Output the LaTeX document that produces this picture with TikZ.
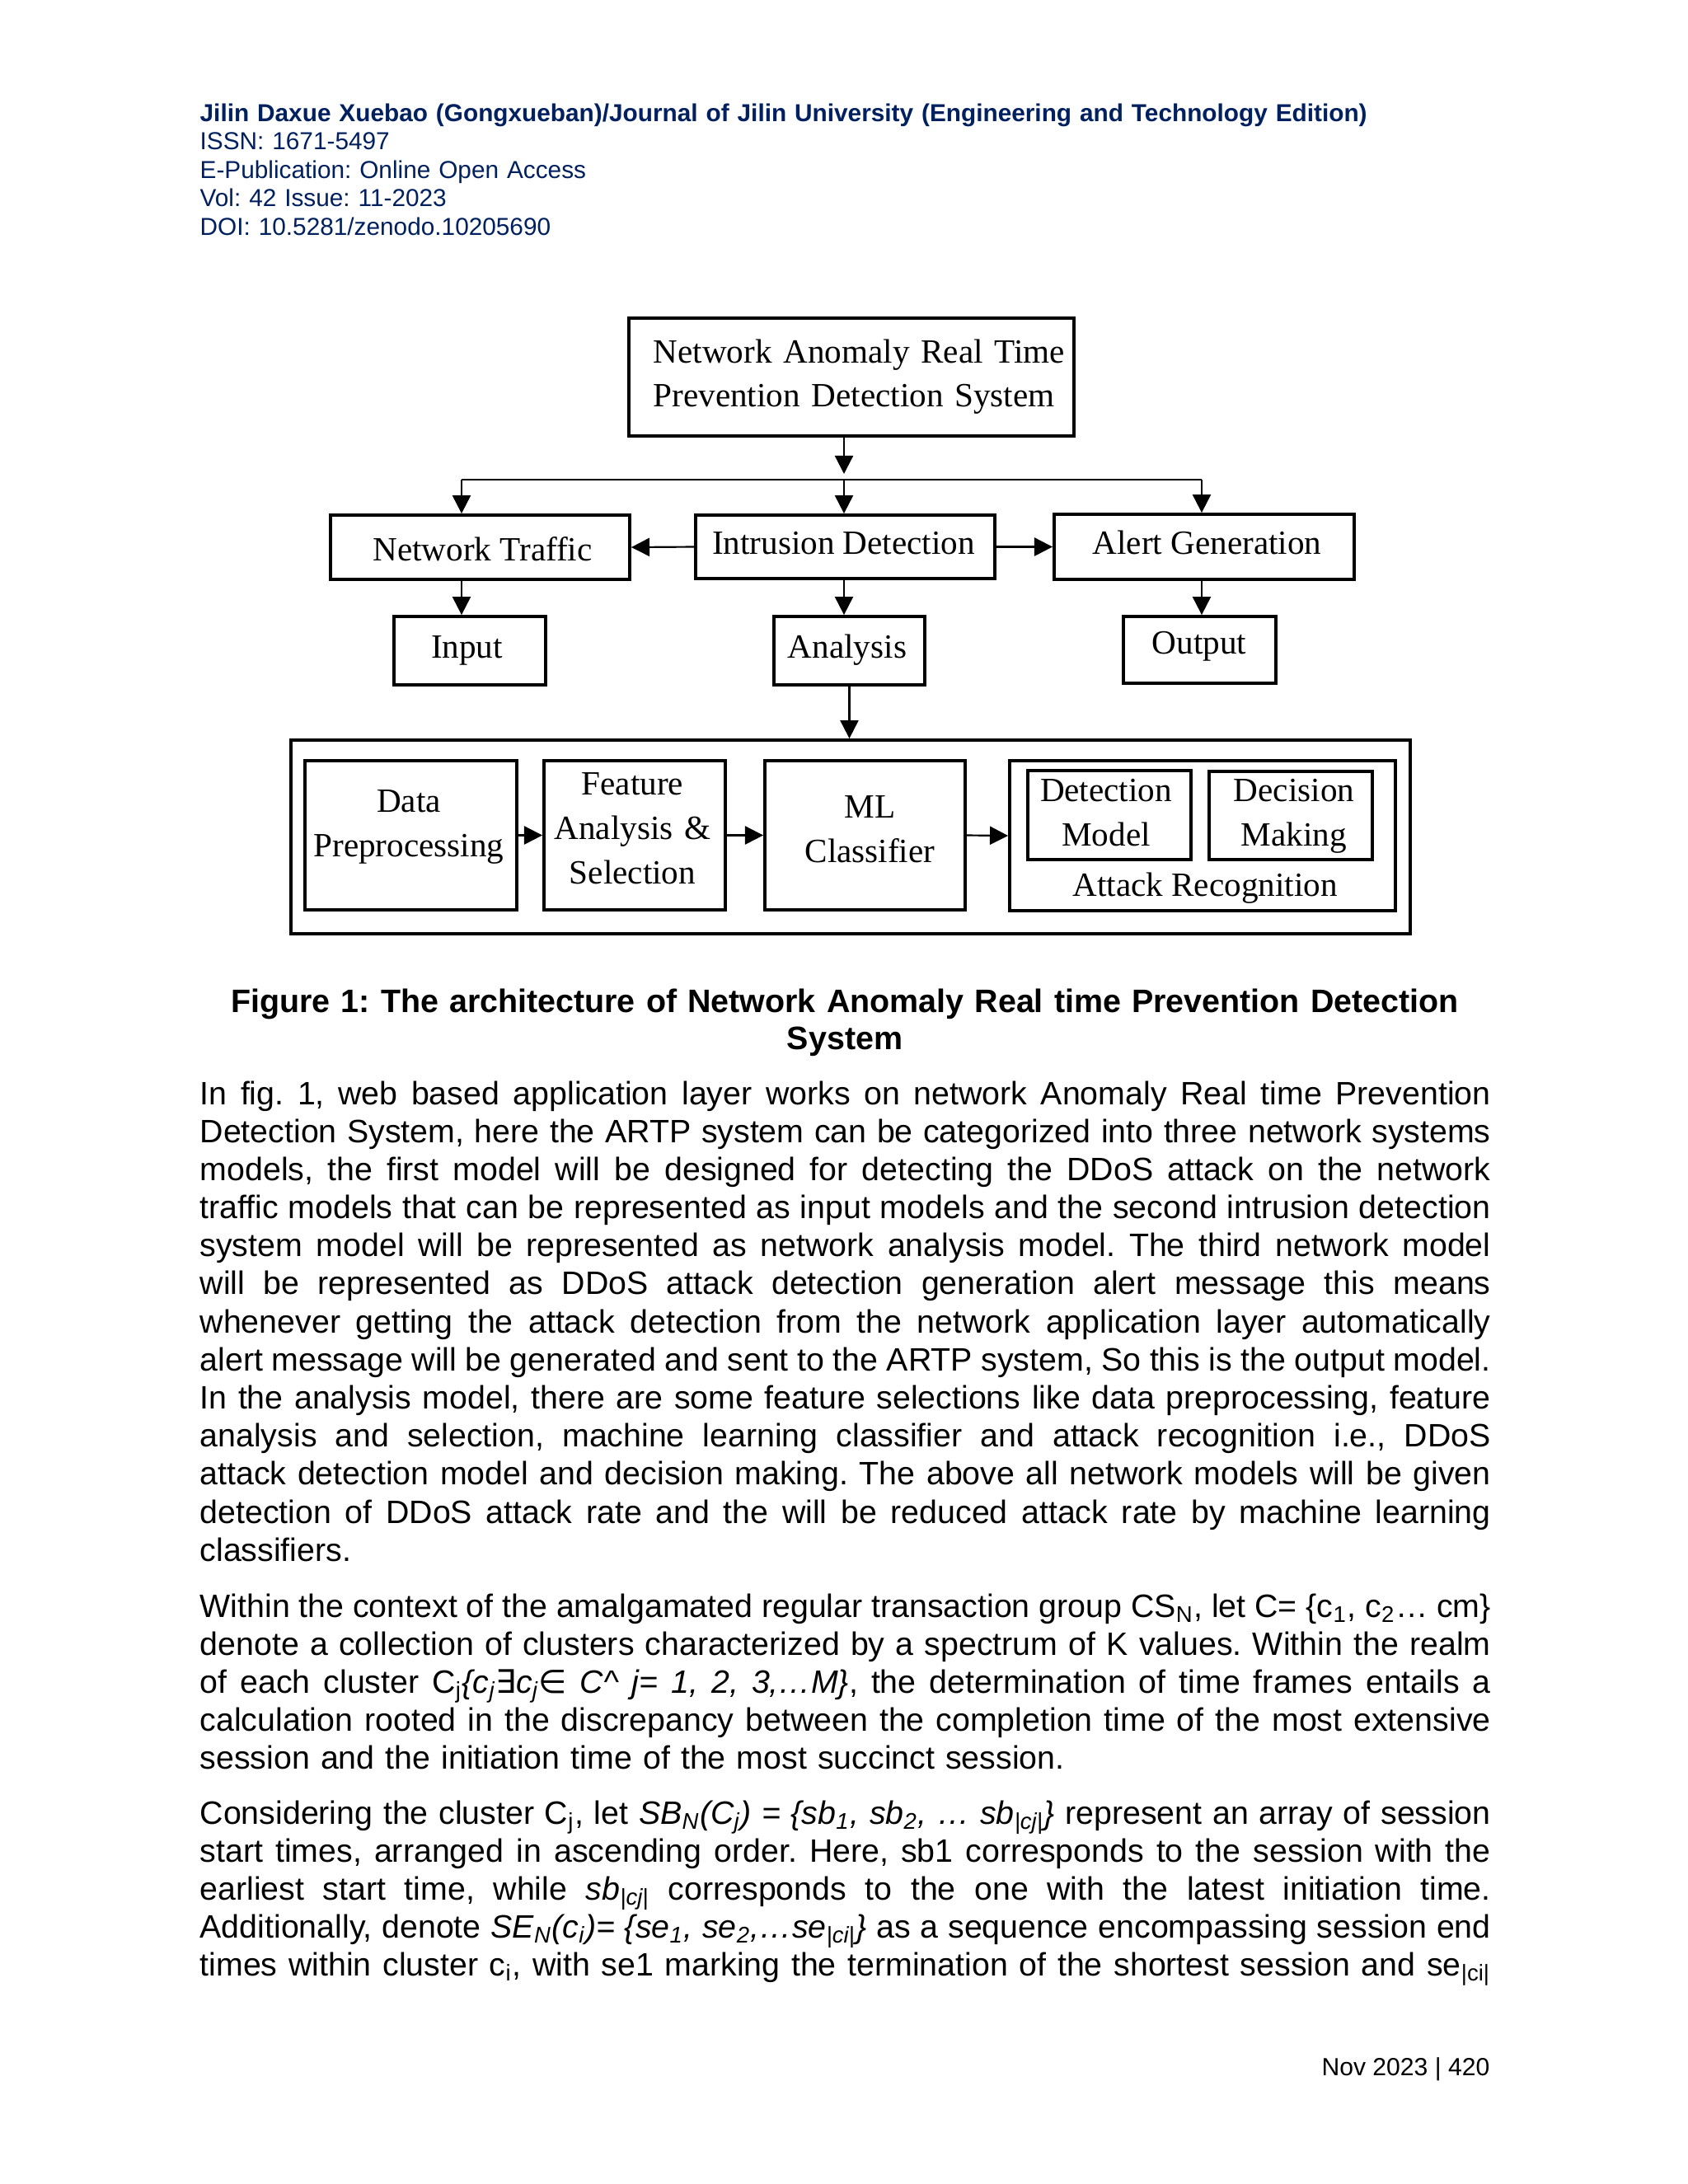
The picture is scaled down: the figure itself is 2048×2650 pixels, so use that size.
\documentclass[tikz,border=0pt]{standalone}
\usepackage{fontspec}
\setmainfont{Liberation Sans}
\newfontfamily\diagfont{Liberation Serif}
\newfontfamily\symfont{DejaVu Sans}
\usetikzlibrary{arrows.meta,calc}
\definecolor{navy}{RGB}{0,32,96}
\newcommand{\mybox}[5]{\node[box, minimum width=#4*0.29883pt, minimum height=#5*0.29883pt] (#1) at (#2,#3) {};}
\newcommand{\sps}{\spaceskip=0.278em plus 0.8em minus 0.13em\relax}
\newcommand{\jl}[1]{\makebox[\linewidth][s]{\sps #1}\\}
\newcommand{\jlast}[1]{\makebox[\linewidth][s]{\sps #1}}
\tikzset{
  box/.style={draw, line width=1.15pt, inner sep=0pt},
  conn/.style={line width=0.65pt},
  arr/.style={conn, -{Triangle[length=6.6pt,width=6.6pt]}},
  dlab/.style={font=\diagfont\fontsize{12.3pt}{16.2pt}\selectfont, inner sep=0pt, anchor=base},
  dlabm/.style={dlab, text width=100pt, align=center},
  body/.style={font=\fontsize{11.75pt}{13.8pt}\selectfont\frenchspacing, inner sep=0pt, anchor=base west, text width=468pt, align=left},
}
\begin{document}
\begin{tikzpicture}[x=0.29883pt,y=-0.29883pt]
\fill[white] (0,0) rectangle (2048,2650);
\useasboundingbox (0,0) rectangle (2048,2650);

% header
\node[font=\fontsize{8.9pt}{10.35pt}\selectfont\frenchspacing, text=navy, anchor=base west, inner sep=0pt, text width=450pt, align=left] (hdr) at (242,147)
 {\textbf{Jilin Daxue Xuebao (Gongxueban)/Journal of Jilin University (Engineering and Technology Edition)}\\ISSN: 1671-5497\\E-Publication: Online Open Access\\Vol: 42 Issue: 11-2023\\DOI: 10.5281/zenodo.10205690};

% boxes
\mybox{top}{1033}{457.5}{540}{143}
\mybox{nt}{582.5}{664}{363}{78}
\mybox{id}{1025.5}{663.5}{363}{77}
\mybox{ag}{1461}{663.5}{364}{79}
\mybox{inp}{570}{789.5}{184}{83}
\mybox{ana}{1030.5}{789.5}{183}{83}
\mybox{out}{1455.5}{788.5}{185}{81}
\mybox{outer}{1032}{1015.5}{1358}{235}
\mybox{dp}{498.5}{1013.5}{257}{181}
\mybox{fa}{770}{1013.5}{220}{181}
\mybox{ml}{1049.5}{1013.5}{243}{181}
\mybox{ar}{1459}{1014}{468}{182}
\mybox{dm}{1346}{989}{198}{108}
\mybox{dc}{1566}{989.5}{198}{107}

% labels
\node[dlab, anchor=base west, text width=170pt, align=left, font=\diagfont\fontsize{12.3pt}{15.85pt}\selectfont] (topT) at (792,440) {Network Anomaly Real Time\\Prevention Detection System};
\node[dlab] (ntT) at (585.5,680) {Network Traffic};
\node[dlab] (idT) at (1023.5,672) {Intrusion Detection};
\node[dlab] (agT) at (1464.5,672) {Alert Generation};
\node[dlab] (inpT) at (566.5,798) {Input};
\node[dlab] (anaT) at (1028,798) {Analysis};
\node[dlab] (outT) at (1455,793) {Output};
\node[dlabm] (dpT) at (496,985) {Data\\Preprocessing};
\node[dlabm] (faT) at (767.5,964) {Feature\\Analysis \&\\Selection};
\node[dlabm] (mlT) at (1055.5,992) {ML\\Classifier};
\node[dlabm] (dmT) at (1342,972) {Detection\\Model};
\node[dlabm] (dcT) at (1570,972) {Decision\\Making};
\node[dlab] (arT) at (1462,1087) {Attack Recognition};

% connectors
\coordinate (busL) at (560,582);
\coordinate (busM) at (1024,582);
\coordinate (busR) at (1458,582);
\coordinate (busTip) at (1024,575);
\draw[arr] (top.south -| busM) -- (busTip);
\draw[conn] (busL) -- (busR);
\draw[arr] (busL) -- (busL |- nt.north);
\draw[arr] (busM) -- (busM |- id.north);
\draw[arr] (busR) -- (busR |- ag.north);
\draw[arr] (id.west) -- (nt.east);
\draw[arr] (id.east) -- (ag.west);
\draw[arr] (nt.south -| busL) -- (inp.north -| busL);
\draw[arr] (id.south -| busM) -- (ana.north -| busM);
\draw[arr] (ag.south -| busR) -- (out.north -| busR);
\draw[arr] (ana.south) -- (ana.south |- outer.north);
\draw[arr] (dp.east) -- (fa.west);
\draw[arr] (fa.east) -- (ml.west);
\draw[arr] (ml.east) -- (ar.west);

% caption
\node[font=\bfseries\fontsize{11.78pt}{13.45pt}\selectfont\frenchspacing, text width=468pt, align=center, anchor=base, inner sep=0pt] (cap) at (1025,1228)
 {Figure 1: The architecture of Network Anomaly Real time Prevention Detection\\System};

% body paragraphs
\node[body] (p1) at (242,1340) {%
\jl{In fig. 1, web based application layer works on network Anomaly Real time Prevention}%
\jl{Detection System, here the ARTP system can be categorized into three network systems}%
\jl{models, the first model will be designed for detecting the DDoS attack on the network}%
\jl{traffic models that can be represented as input models and the second intrusion detection}%
\jl{system model will be represented as network analysis model. The third network model}%
\jl{will be represented as DDoS attack detection generation alert message this means}%
\jl{whenever getting the attack detection from the network application layer automatically}%
\jl{alert message will be generated and sent to the ARTP system, So this is the output model.}%
\jl{In the analysis model, there are some feature selections like data preprocessing, feature}%
\jl{analysis and selection, machine learning classifier and attack recognition i.e., DDoS}%
\jl{attack detection model and decision making. The above all network models will be given}%
\jl{detection of DDoS attack rate and the will be reduced attack rate by machine learning}%
classifiers.};

\node[body] (p2) at (242,1962) {%
\jl{Within the context of the amalgamated regular transaction group CS\textsubscript{N}, let C= \{c\textsubscript{1}, c\textsubscript{2}… cm\}}%
\jl{denote a collection of clusters characterized by a spectrum of K values. Within the realm}%
\jl{of each cluster C\textsubscript{j}\textit{\{c\textsubscript{j}{\symfont ∃}c\textsubscript{j}{\symfont ∈} C\textasciicircum{} j= 1, 2, 3,…M\}}, the determination of time frames entails a}%
\jl{calculation rooted in the discrepancy between the completion time of the most extensive}%
session and the initiation time of the most succinct session.};

\node[body] (p3) at (242,2213) {%
\jl{Considering the cluster C\textsubscript{j}, let \textit{SB\textsubscript{N}(C\textsubscript{j}) = \{sb\textsubscript{1}, sb\textsubscript{2}, … sb\textsubscript{|cj|}\}} represent an array of session}%
\jl{start times, arranged in ascending order. Here, sb1 corresponds to the session with the}%
\jl{earliest start time, while \textit{sb\textsubscript{|cj|}} corresponds to the one with the latest initiation time.}%
\jl{Additionally, denote \textit{SE\textsubscript{N}(c\textsubscript{i})= \{se\textsubscript{1}, se\textsubscript{2},…se\textsubscript{|ci|}\}} as a sequence encompassing session end}%
\jlast{times within cluster c\textsubscript{i}, with se1 marking the termination of the shortest session and se\textsubscript{|ci|}}};

% footer
\node[font=\fontsize{9pt}{10.35pt}\selectfont, anchor=base east, inner sep=0pt] (ftr) at (1808,2518) {Nov 2023 | 420};
\end{tikzpicture}
\end{document}
